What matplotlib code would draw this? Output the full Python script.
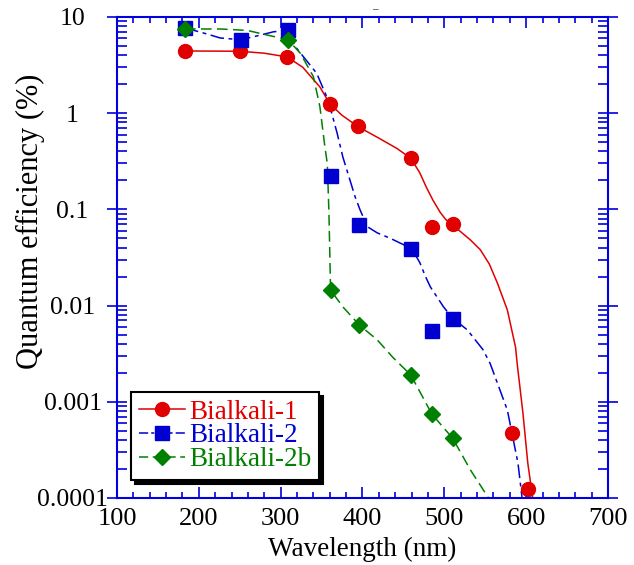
import numpy as np
import matplotlib
matplotlib.use("Agg")
import matplotlib.pyplot as plt
from matplotlib.ticker import FixedLocator, FuncFormatter, LogLocator, MultipleLocator

plt.rcParams['font.family'] = ['Liberation Serif', 'DejaVu Serif']

# Measured points
wl_bi1 = [183, 250, 308, 360, 395, 459, 485, 510, 583, 602]
qe_bi1 = [4.43, 4.4, 3.84, 1.25, 0.74, 0.34, 0.066, 0.071, 0.00047, 0.000124]

wl_bi2 = [183, 251, 309, 361, 396, 459, 485, 510]
qe_bi2 = [7.7, 5.77, 7.3, 0.22, 0.068, 0.039, 0.0054, 0.0073]

wl_bi2b = [183, 309, 361, 396, 459, 485, 510]
qe_bi2b = [7.5, 5.8, 0.0145, 0.0063, 0.0019, 0.00074, 0.00042]

# Smooth fit curves (traced)
fit_wl_bi1 = [183, 250, 280, 308, 327, 348, 360, 375, 395, 420, 442, 459, 470, 478, 486,
              495, 502, 510, 532, 544, 555, 565, 577, 587, 589, 596, 602, 608]
fit_qe_bi1 = [4.43, 4.4, 4.2, 3.84, 3.0, 1.87, 1.25, 0.95, 0.72, 0.55, 0.43, 0.34, 0.24, 0.17, 0.125,
              0.093, 0.078, 0.069, 0.048, 0.038, 0.027, 0.017, 0.009, 0.0037, 0.0025, 0.00077,
              0.00023, 0.0001]

fit_wl_bi2 = [183, 210, 226, 251, 271, 291, 309, 318, 344, 358, 369, 376, 391, 397, 406,
              418, 434, 450, 461, 470, 477, 483, 499, 510, 528, 547, 556, 577, 590, 595]
fit_qe_bi2 = [7.7, 6.65, 6.05, 5.8, 6.35, 7.0, 7.3, 4.9, 2.6, 1.37, 0.62, 0.35, 0.135, 0.099, 0.066,
              0.057, 0.05, 0.043, 0.038, 0.028, 0.02, 0.0156, 0.0097, 0.0074, 0.0056, 0.0035, 0.0025,
              0.00082, 0.00023, 0.0001]

fit_wl_bi2b = [183, 226, 259, 283, 309, 324, 340, 348, 354, 357, 359, 361, 376, 396, 418,
               437, 459, 485, 510, 532, 554]
fit_qe_bi2b = [7.5, 7.5, 7.25, 6.5, 5.8, 4.2, 2.4, 1.16, 0.45, 0.30, 0.092, 0.0145, 0.0097, 0.0063,
               0.0044, 0.0029, 0.0019, 0.00074, 0.00042, 0.000195, 0.0001]

labels = ['Bialkali-1', 'Bialkali-2', 'Bialkali-2b']
colors = ['#e00000', '#0000d0', '#008000']

fig = plt.figure(figsize=(6.34, 5.65), dpi=100)
ax = fig.add_axes([0.1845, 0.1186, 0.7745, 0.8514])

# fit curves
ax.plot(fit_wl_bi1, fit_qe_bi1, '-', color=colors[0], lw=1.1)
ax.plot(fit_wl_bi2, fit_qe_bi2, color=colors[1], lw=1.1, dashes=(9, 3, 2.5, 3))
ax.plot(fit_wl_bi2b, fit_qe_bi2b, color=colors[2], lw=1.1, dashes=(7, 3.5))

# markers
ax.plot(wl_bi1, qe_bi1, 'o', color=colors[0], ms=10, mec=colors[0])
ax.plot(wl_bi2, qe_bi2, 's', color=colors[1], ms=9.5, mec=colors[1])
ax.plot(wl_bi2b, qe_bi2b, 'D', color=colors[2], ms=8.5, mec=colors[2])

# legend proxies
h1, = ax.plot([], [], '-o', color=colors[0], ms=10, lw=1.1)
h2, = ax.plot([], [], marker='s', color=colors[1], ms=9.5, lw=1.1, dashes=(6, 2, 2, 2))
h3, = ax.plot([], [], marker='D', color=colors[2], ms=8.5, lw=1.1, dashes=(6, 3))
leg = ax.legend([h1, h2, h3], labels, loc='lower left', bbox_to_anchor=(0.028, 0.037),
                borderaxespad=0, fancybox=False, fontsize=19.5, labelcolor='linecolor',
                handlelength=1.7, handletextpad=0.15, borderpad=0.3, labelspacing=-0.05,
                shadow={'ox': 3, 'oy': -3, 'color': 'black', 'alpha': 1})
leg.get_frame().set_edgecolor('black')
leg.get_frame().set_linewidth(1.5)

ax.set_yscale('log')
ax.set_xlim(100, 700)
ax.set_ylim(0.0001, 10)

ax.xaxis.set_major_locator(MultipleLocator(100))
ax.xaxis.set_minor_locator(MultipleLocator(20))
ax.yaxis.set_major_locator(FixedLocator([1e-4, 1e-3, 1e-2, 1e-1, 1, 10]))
ax.yaxis.set_minor_locator(LogLocator(base=10, subs=np.arange(2, 10)))
ax.yaxis.set_major_formatter(FuncFormatter(lambda v, p: '%g' % v))

axis_blue = '#0000e0'
for s in ax.spines.values():
    s.set_color(axis_blue)
    s.set_linewidth(1.5)
ax.tick_params(axis='both', which='both', colors=axis_blue, labelcolor='black',
               top=True, right=True, labelsize=19, width=1.2)
ax.tick_params(axis='y', labelsize=18.5)
ax.tick_params(axis='x', which='major', direction='in', length=8)
ax.tick_params(axis='x', which='minor', direction='in', length=4)
ax.tick_params(axis='y', which='major', direction='inout', length=14)
ax.tick_params(axis='y', which='minor', direction='in', length=7)
ax.tick_params(axis='x', pad=7)
ax.tick_params(axis='y', pad=25)
for t in ax.get_yticklabels():
    t.set_horizontalalignment('center')

ax.set_xlabel('Wavelength (nm)', fontsize=19.5, labelpad=5)
ax.set_ylabel('Quantum efficiency (%)', fontsize=22)
ax.yaxis.set_label_coords(-0.146, 0.575)

fig.text(0.592, 0.99, '\u2013', fontsize=8, ha='center', va='top')

fig.savefig('out.png', dpi=100)
